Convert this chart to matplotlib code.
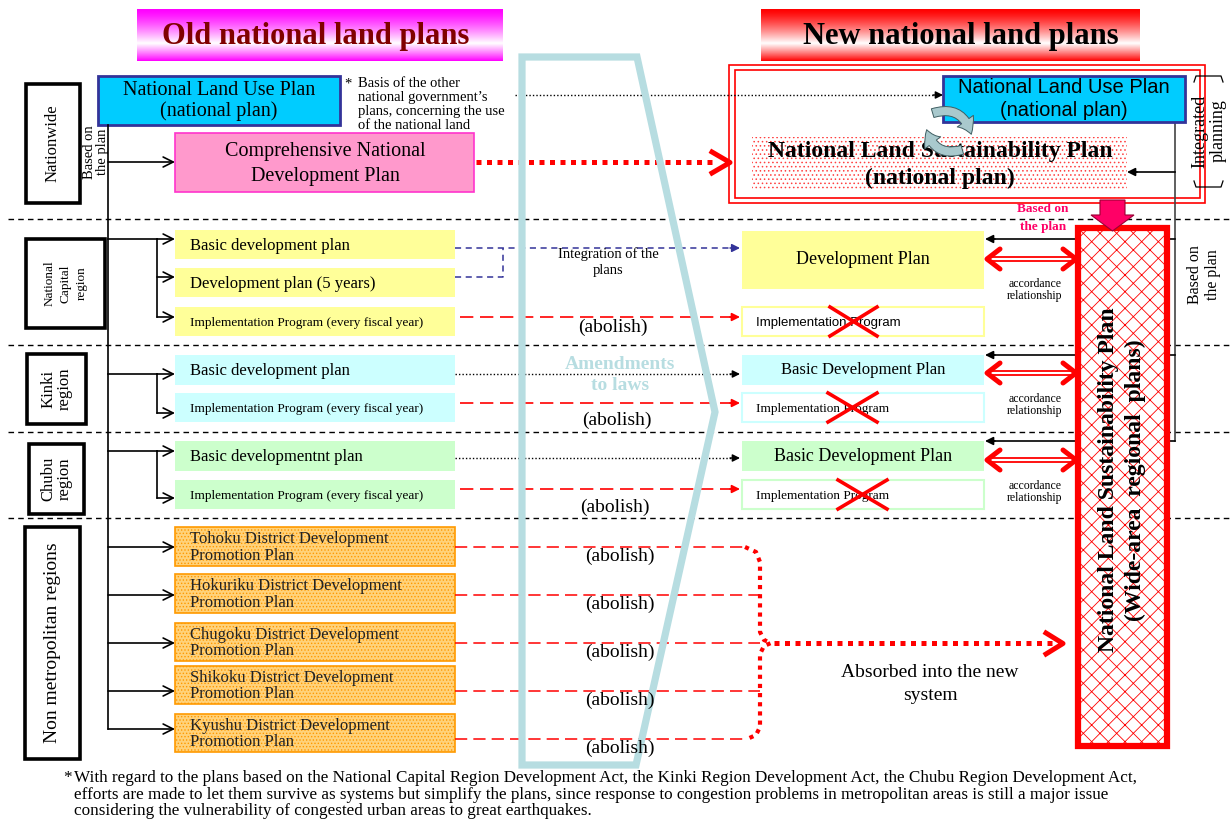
import numpy as np
import matplotlib
matplotlib.use("Agg")
import matplotlib.pyplot as plt
import matplotlib.colors as mcolors
from matplotlib.patches import Rectangle, Polygon, FancyArrowPatch

plt.rcParams['hatch.linewidth'] = 0.6
SERIF = ['Liberation Serif', 'DejaVu Serif']
SANS = ['Liberation Sans', 'DejaVu Sans']

# ---------------- content ----------------
title_old = "Old national land plans"
title_new = "New national land plans"
region_labels = ["Nationwide", "National\nCapital\nregion", "Kinki\nregion", "Chubu\nregion",
                 "Non metropolitan regions"]
old_nat_plans = ["National Land Use Plan\n(national plan)", "Comprehensive National\nDevelopment Plan"]
old_nat_note = "Basis of the other\nnational government\u2019s\nplans, concerning the use\nof the national land"
new_nat_plans = ["National Land Use Plan\n(national plan)", "National Land Sustainability Plan\n(national plan)"]
new_regional_plan = "National Land Sustainability Plan\n(Wide-area  regional  plans)"
capital_old = ["Basic development plan", "Development plan (5 years)",
               "Implementation Program (every fiscal year)"]
kinki_old = ["Basic development plan", "Implementation Program (every fiscal year)"]
chubu_old = ["Basic developmentnt plan", "Implementation Program (every fiscal year)"]
metro_new = ["Development Plan", "Basic Development Plan", "Basic Development Plan"]
metro_new_impl = ["Implementation Program", "Implementation Program", "Implementation Program"]
districts = ["Tohoku", "Hokuriku", "Chugoku", "Shikoku", "Kyushu"]
district_plan = "{} District Development\nPromotion Plan"
abolish_label = "(abolish)"
integration_label = "Integration of the\nplans"
accordance_label = "accordance\nrelationship"
based_label = "Based on\nthe plan"
integrated_label = "Integrated\nplanning"
amend_label = "Amendments\nto laws"
absorbed_label = "Absorbed into the new\nsystem"
footnote = ("With regard to the plans based on the National Capital Region Development Act, the Kinki Region "
            "Development Act, the Chubu Region Development Act,\n"
            "efforts are made to let them survive as systems but simplify the plans, since response to congestion "
            "problems in metropolitan areas is still a major issue\n"
            "considering the vulnerability of congested urban areas to great earthquakes.")

# ---------------- styles ----------------
YEL, CYN, GRN = '#FFFF99', '#CCFFFF', '#CCFFCC'
RED = '#FF0000'
NLBLUE, NAVY = '#00CCFF', '#333399'
LBLUE = '#B7DDE1'

fig = plt.figure(figsize=(12.3, 8.24), dpi=100)
ax = fig.add_axes([0, 0, 1, 1])
ax.axis('off')


def T(x, y, s, size, family=SERIF, ha='center', va='center', z=8, **kw):
    ax.text(x, y, s, fontsize=size, family=family, ha=ha, va=va, zorder=z, **kw)


def box(x0, y0, x1, y1, fc='none', ec='none', lw=1.0, hatch=None, z=2):
    ax.add_patch(Rectangle((x0, y0), x1 - x0, y1 - y0, facecolor=fc, edgecolor=ec,
                           lw=lw, hatch=hatch, zorder=z))


def arr(x0, y0, x1, y1, color='k', lw=1.2, ms=18, style='->', z=3):
    ax.annotate('', xy=(x1, y1), xytext=(x0, y0), zorder=z,
                arrowprops=dict(arrowstyle=style, color=color, lw=lw, mutation_scale=ms,
                                shrinkA=0, shrinkB=0))


def styled_arrow(x0, y, x1, color, lw, ls, ms=12, z=3):
    d = 1 if x1 > x0 else -1
    ax.plot([x0, x1 - d * 6], [y, y], color=color, lw=lw, ls=ls, zorder=z)
    arr(x1 - d * 10, y, x1, y, color=color, lw=lw, ms=ms, style='-|>', z=z)


def grad(x0, y0, x1, y1, base):
    t = np.linspace(0, 1, 80)
    w = np.where(t < 0.66, (t / 0.66) ** 1.3, ((1 - t) / 0.34) ** 0.9)
    b = np.array(mcolors.to_rgb(base))
    img = (1 - w)[:, None] * b + w[:, None] * np.ones(3)
    ax.imshow(img[:, None, :], extent=(x0, x1, y1, y0), aspect='auto', zorder=1,
              interpolation='bilinear')


def red_x(x0, y0, x1, y1):
    ax.plot([x0, x1], [y0, y1], color=RED, lw=2.6, zorder=9)
    ax.plot([x0, x1], [y1, y0], color=RED, lw=2.6, zorder=9)


def double_arrow(x0, x1, y):
    ax.plot([x0 + 4, x1 - 4], [y - 2.2, y - 2.2], color=RED, lw=1.3, zorder=6)
    ax.plot([x0 + 4, x1 - 4], [y + 2.2, y + 2.2], color=RED, lw=1.3, zorder=6)
    ax.plot([x0 + 14, x0 + 1, x0 + 14], [y - 10, y, y + 10], color=RED, lw=3.6, zorder=6,
            solid_capstyle='round')
    ax.plot([x1 - 14, x1 - 1, x1 - 14], [y - 10, y, y + 10], color=RED, lw=3.6, zorder=6,
            solid_capstyle='round')


# ---------------- headers ----------------
grad(137, 9, 503, 61, '#FF00FF')
grad(761, 9, 1140, 61, '#FF0000')
T(316, 36, title_old, 22, weight='bold', color='#800000')
T(961, 36, title_new, 22, weight='bold', color='black')

# ---------------- separators ----------------
for ysep in [219, 345, 432, 518]:
    ax.plot([8, 1230], [ysep, ysep], color='k', lw=1.0, ls=(0, (4, 3)), zorder=1)

# ---------------- region label boxes ----------------
reg_boxes = [(26, 84, 80, 203), (26, 239, 105, 328), (27, 354, 86, 424), (29, 444, 84, 514), (25, 527, 80, 759)]
reg_sizes = [12, 9.5, 12, 12, 14]
reg_ls = [1.0, 1.45, 1.07, 1.0, 1.0]
for (x0, y0, x1, y1), lab, fs, ls in zip(reg_boxes, region_labels, reg_sizes, reg_ls):
    box(x0, y0, x1, y1, fc='white', ec='black', lw=2.6, z=3)
    T((x0 + x1) / 2, (y0 + y1) / 2, lab, fs, rotation=90, linespacing=ls)

# ---------------- nationwide old ----------------
box(98, 76, 340, 125, fc=NLBLUE, ec=NAVY, lw=2.0)
T(219, 101, old_nat_plans[0], 14.5, linespacing=1.12)
box(175, 133, 474, 192, fc='#FF99CC', ec='#FF33CC', lw=1.2)
T(325, 164, old_nat_plans[1], 14.5, linespacing=1.4)
T(348, 84, '*', 10.5)
T(358, 77, old_nat_note, 10.5, ha='left', va='top', linespacing=1.1)
ax.plot([108, 108], [125, 729], color='k', lw=1.2, zorder=2)
T(96, 152, based_label, 10.5, rotation=90, linespacing=1.07)
arr(108, 162, 175, 162)

# link old NLUP -> new NLUP (dotted)
styled_arrow(515, 95, 943, 'k', 1.0, (0, (1, 1.5)), ms=11)
# comprehensive -> new (thick red dotted)
ax.plot([476, 716], [162, 162], color=RED, lw=3.6, ls=(0, (1, 1.1)), zorder=3)
ax.plot([712, 730, 712], [152, 162.5, 173], color=RED, lw=3.6, zorder=3)

# ---------------- nationwide new ----------------
box(729, 65, 1205, 203, fc='white', ec=RED, lw=1.2, z=1.5)
box(735, 70, 1200, 198, fc='none', ec=RED, lw=1.2, z=1.6)
ax.add_patch(Rectangle((752, 137), 375, 53, facecolor='none', edgecolor='#FF4040', lw=0,
                       hatch='....', zorder=2))
T(940, 165, new_nat_plans[1], 17, weight='bold', linespacing=1.38)
box(943, 76, 1185, 122, fc=NLBLUE, ec=NAVY, lw=2.0, z=4)
T(1064, 99, new_nat_plans[0], 14.5, family=SANS, linespacing=1.28)
# circular arrows icon
for pa, pb in [((930, 114), (972, 137)), ((965, 149), (926, 127))]:
    ax.add_patch(FancyArrowPatch(posA=pa, posB=pb, connectionstyle='arc3,rad=-0.55',
                                 arrowstyle='simple,head_length=0.8,head_width=1.1,tail_width=0.5',
                                 mutation_scale=13, facecolor='#A9C9CD', edgecolor='#3E5E62',
                                 lw=0.7, zorder=9))
# integrated planning bracket
T(1209, 131, integrated_label, 13, rotation=90, linespacing=1.05)
ax.plot([1194, 1196, 1221, 1223], [82, 76, 76, 82], color='k', lw=0.9, zorder=3)
ax.plot([1194, 1196, 1221, 1223], [181, 187, 187, 181], color='k', lw=0.9, zorder=3)
# based-on lines from NLUP (new)
ax.plot([1175, 1175], [122, 441], color='#444444', lw=1.2, zorder=2)
styled_arrow(1175, 172, 1127, 'k', 1.2, '-', ms=12)
T(1204, 275, based_label, 11.5, rotation=90, linespacing=1.2)
# magenta block arrow
ax.add_patch(Polygon([(1100, 200), (1125, 200), (1125, 215), (1134, 215), (1112.5, 231),
                      (1091, 215), (1100, 215)], closed=True, facecolor='#FF0066',
                     edgecolor='#990033', lw=0.8, zorder=6))
T(1043, 218, based_label, 9.5, weight='bold', color='#FF0066', linespacing=1.6)

# ---------------- tall regional plan box ----------------
ax.add_patch(Rectangle((1078, 228), 89, 518, facecolor='white', edgecolor=RED, lw=0,
                       hatch='xx', zorder=5))
box(1078, 228, 1167, 746, fc='none', ec=RED, lw=4.5, z=5.5)
T(1122, 480, new_regional_plan, 17, weight='bold', rotation=90, linespacing=1.3)

# ---------------- metropolitan rows ----------------
OX0, OX1 = 175, 455
rows_old = [
    (capital_old, YEL, [(230, 259), (268, 297), (307, 336)], [12, 12, 9.5]),
    (kinki_old, CYN, [(355, 385), (393, 422)], [12, 9.5]),
    (chubu_old, GRN, [(441, 471), (480, 509)], [12, 9.5]),
]
arrow_ys = [[239, 277, 317], [374, 413], [451, 498]]
for (labels, col, ranges, sizes), ays in zip(rows_old, arrow_ys):
    for lab, (y0, y1), fs in zip(labels, ranges, sizes):
        box(OX0, y0, OX1, y1, fc=col, ec='none', lw=0)
        T(190, (y0 + y1) / 2 + 1, lab, fs, ha='left')
    ax.plot([108, 157], [ays[0], ays[0]], color='k', lw=1.2, zorder=2)
    ax.plot([157, 157], [ays[0], ays[-1]], color='k', lw=1.2, zorder=2)
    arr(157, ays[0], 175, ays[0])
    for ya in ays[1:]:
        arr(157, ya, 175, ya)

# links old -> new
styled_arrow(455, 248, 740, NAVY, 1.1, (0, (4, 3)), ms=12)
ax.plot([455, 503, 503], [277, 277, 248], color=NAVY, lw=1.1, ls=(0, (4, 3)), zorder=3)
T(608, 262, integration_label, 10.5, linespacing=1.35)
for yl in [374, 458]:
    styled_arrow(455, yl, 740, 'k', 1.0, (0, (1, 1.5)), ms=11)
for yl in [317, 403, 489]:
    styled_arrow(460, yl, 740, RED, 1.2, (0, (8, 4)), ms=12)
for xa, ya in [(613, 327), (617, 420), (615, 507)]:
    T(xa, ya, abolish_label, 14)

# new metropolitan boxes
NX0, NX1 = 742, 984
new_main = [(231, 289), (355, 385), (441, 471)]
new_impl = [(307, 336), (393, 422), (480, 509)]
new_cols = [YEL, CYN, GRN]
main_sizes = [13, 12, 13]
impl_fams = [SANS, SERIF, SERIF]
xs_x = [(830, 877), (828, 877), (838, 887)]
for lab, ilab, (y0, y1), (i0, i1), col, fs, fam, (xa, xb) in zip(
        metro_new, metro_new_impl, new_main, new_impl, new_cols, main_sizes, impl_fams, xs_x):
    box(NX0, y0, NX1, y1, fc=col, ec='none', lw=0)
    T((NX0 + NX1) / 2, (y0 + y1) / 2, lab, fs)
    box(NX0, i0, NX1, i1, fc='white', ec=col, lw=1.5)
    T(756, (i0 + i1) / 2 + 1, ilab, 9.5, family=fam, ha='left')
    red_x(xa, i0, xb, i1)

for yb in [239, 355, 441]:
    ax.plot([1078, 1175], [yb, yb], color='k', lw=1.2, zorder=2)
    styled_arrow(1078, yb, 985, 'k', 1.2, '-', ms=12)
for yd, ytx in [(259, 290), (373, 405), (460, 492)]:
    double_arrow(986, 1077, yd)
    T(1035, ytx, accordance_label, 8.5, linespacing=0.9)

# ---------------- non-metropolitan rows ----------------
d_ranges = [(527, 566), (574, 613), (623, 661), (666, 704), (714, 752)]
d_arrows = [547, 595, 643, 691, 729]
d_lines = [547, 595, 643, 691, 739]
d_ends = [745, 760, 760, 760, 745]
for name, (y0, y1), ya, yl, xe in zip(districts, d_ranges, d_arrows, d_lines, d_ends):
    box(OX0, y0, OX1, y1, fc='#FFD27A', ec='#FF9900', lw=1.2, hatch='.....')
    T(190, (y0 + y1) / 2 + 1, district_plan.format(name), 12, ha='left', linespacing=1.03,
      color='#222222')
    arr(108, ya, 175, ya)
    ax.plot([455, xe], [yl, yl], color=RED, lw=1.1, ls=(0, (8, 4)), zorder=3)
    T(620, yl + 9, abolish_label, 14)

bx = [745, 756, 760, 760, 764, 771, 764, 760, 760, 756, 745]
by = [547, 552, 562, 632, 640, 643, 646, 654, 727, 735, 740]
ax.plot(bx, by, color=RED, lw=3.0, ls=(0, (1, 1.2)), zorder=3)
ax.plot([774, 1052], [643, 643], color=RED, lw=3.6, ls=(0, (1, 1.1)), zorder=3)
ax.plot([1046, 1063, 1046], [633, 643.5, 654], color=RED, lw=3.6, zorder=3)
T(930, 684, absorbed_label, 14, linespacing=1.45)

# ---------------- amendments to laws shape ----------------
ax.add_patch(Polygon([(522, 57), (637, 57), (715, 412), (636, 765), (522, 765)], closed=True,
                     fill=False, edgecolor=LBLUE, lw=5.2, joinstyle='miter', zorder=4))
T(620, 375, amend_label, 14, weight='bold', color=LBLUE, linespacing=1.25)

# ---------------- footnote ----------------
T(63, 770, '*', 12.3, ha='left', va='top')
T(74, 770, footnote, 12.3, ha='left', va='top', linespacing=1.05)

ax.set_xlim(0, 1230)
ax.set_ylim(824, 0)
fig.savefig('out.png', dpi=100)
